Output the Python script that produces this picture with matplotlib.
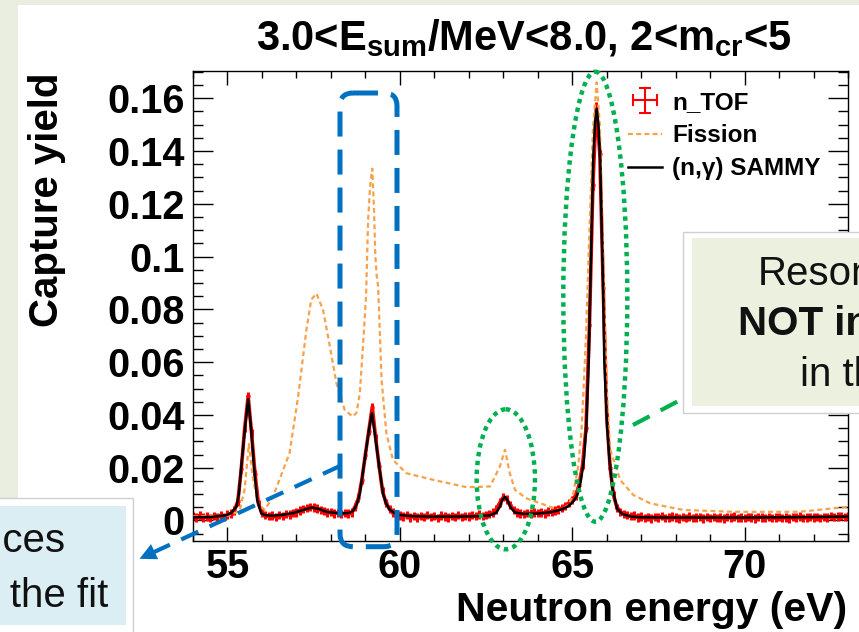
import numpy as np
import matplotlib
matplotlib.use('Agg')
import matplotlib.pyplot as plt
from matplotlib.transforms import Affine2D
from matplotlib.patches import FancyBboxPatch, Ellipse, Rectangle, FancyArrowPatch
from matplotlib.lines import Line2D

plt.rcParams['font.family'] = ['Liberation Sans', 'DejaVu Sans']
plt.rcParams['font.weight'] = 'bold'
plt.rcParams['mathtext.fontset'] = 'custom'
plt.rcParams['mathtext.rm'] = 'Liberation Sans:bold'
plt.rcParams['mathtext.bf'] = 'Liberation Sans:bold'
plt.rcParams['mathtext.it'] = 'Liberation Sans:bold'

# ---------------- data ----------------
ntof_start = 54.0
ntof_step = 0.1
ntof_yield = [
    0.0016, 0.0011, 0.0019, 0.0012, 0.0015, 0.0009, 0.0017, 0.0013, 0.0020, 0.0014,
    0.0022, 0.0026, 0.0038, 0.0072, 0.0195, 0.0350, 0.0470, 0.0330, 0.0175, 0.0062,
    0.0030, 0.0021, 0.0016, 0.0019, 0.0014, 0.0020, 0.0018, 0.0024, 0.0022, 0.0029,
    0.0031, 0.0038, 0.0043, 0.0047, 0.0052, 0.0049, 0.0046, 0.0040, 0.0035, 0.0030,
    0.0033, 0.0027, 0.0029, 0.0024, 0.0028, 0.0026, 0.0031, 0.0052, 0.0085, 0.0155,
    0.0250, 0.0340, 0.0430, 0.0310, 0.0205, 0.0110, 0.0066, 0.0043, 0.0030, 0.0022,
    0.0019, 0.0015, 0.0021, 0.0012, 0.0017, 0.0011, 0.0018, 0.0014, 0.0020, 0.0013,
    0.0016, 0.0010, 0.0019, 0.0015, 0.0012, 0.0018, 0.0014, 0.0021, 0.0013, 0.0017,
    0.0015, 0.0020, 0.0016, 0.0022, 0.0018, 0.0021, 0.0024, 0.0030, 0.0042, 0.0068,
    0.0088, 0.0080, 0.0058, 0.0040, 0.0031, 0.0027, 0.0024, 0.0029, 0.0026, 0.0030,
    0.0028, 0.0031, 0.0027, 0.0034, 0.0032, 0.0038, 0.0042, 0.0047, 0.0055, 0.0066,
    0.0078, 0.0095, 0.0135, 0.0210, 0.0350, 0.0740, 0.1270, 0.1570, 0.1390, 0.0880,
    0.0400, 0.0200, 0.0095, 0.0048, 0.0033, 0.0024, 0.0020, 0.0016, 0.0019, 0.0012,
    0.0015, 0.0010, 0.0013, 0.0008, 0.0014, 0.0011, 0.0016, 0.0009, 0.0012, 0.0015,
    0.0011, 0.0007, 0.0013, 0.0010, 0.0015, 0.0009, 0.0012, 0.0014, 0.0008, 0.0013,
    0.0010, 0.0014, 0.0009, 0.0012, 0.0007, 0.0013, 0.0011, 0.0015, 0.0010, 0.0012,
    0.0009, 0.0013, 0.0011, 0.0008, 0.0014, 0.0012, 0.0010, 0.0013, 0.0009, 0.0011,
    0.0014, 0.0010, 0.0012, 0.0008, 0.0013, 0.0011, 0.0015, 0.0009, 0.0012, 0.0014,
    0.0011, 0.0013, 0.0010, 0.0014, 0.0012, 0.0016, 0.0013, 0.0015, 0.0017, 0.0014,
    0.0016,
]
ntof_energy = np.round(ntof_start + ntof_step * np.arange(len(ntof_yield)), 2)
ntof_err = 0.0016
ntof_bin_half = 0.05

sammy_energy = [
    54.0, 54.5, 54.97, 55.1, 55.26, 55.33, 55.40, 55.50, 55.60, 55.69,
    55.77, 55.86, 55.98, 56.1, 56.31, 56.6, 56.9, 57.15, 57.43, 57.65,
    57.87, 58.1, 58.3, 58.5, 58.64, 58.75, 58.84, 58.98, 59.10, 59.19,
    59.30, 59.40, 59.51, 59.60, 59.71, 59.85, 59.99, 60.3, 60.8, 61.5,
    62.2, 62.6, 62.8, 62.9, 62.97, 63.05, 63.13, 63.22, 63.35, 63.6,
    64.0, 64.4, 64.7, 64.9, 65.05, 65.15, 65.25, 65.34, 65.41, 65.48,
    65.52, 65.565, 65.61, 65.66, 65.71, 65.76, 65.81, 65.855, 65.90, 65.93,
    66.01, 66.08, 66.17, 66.3, 66.45, 66.7, 67.0, 68.0, 69.0, 70.0,
    71.0, 72.0, 73.0,
]
sammy_yield = [
    0.0012, 0.0013, 0.0020, 0.0028, 0.0052, 0.0100, 0.0204, 0.0340, 0.0460, 0.0340,
    0.0204, 0.0078, 0.0027, 0.0020, 0.0018, 0.0022, 0.0028, 0.0038, 0.0049, 0.0044,
    0.0033, 0.0029, 0.0027, 0.0028, 0.0035, 0.0060, 0.0103, 0.0230, 0.0340, 0.0407,
    0.0305, 0.0204, 0.0103, 0.0065, 0.0040, 0.0028, 0.0021, 0.0017, 0.0015, 0.0015,
    0.0016, 0.0019, 0.0030, 0.0052, 0.0078, 0.0090, 0.0075, 0.0048, 0.0030, 0.0025,
    0.0026, 0.0032, 0.0042, 0.0055, 0.0075, 0.0097, 0.0150, 0.0230, 0.0360, 0.0610,
    0.0860, 0.1115, 0.1370, 0.1500, 0.1560, 0.1500, 0.1370, 0.1115, 0.0860, 0.0610,
    0.0360, 0.0230, 0.0120, 0.0045, 0.0025, 0.0015, 0.0012, 0.0011, 0.0011, 0.0011,
    0.0012, 0.0013, 0.0015,
]

fission_energy = [
    54.0, 55.0, 55.35, 55.5, 55.62, 55.75, 55.9, 56.08, 56.32, 56.8,
    57.05, 57.29, 57.43, 57.58, 57.77, 57.97, 58.16, 58.40, 58.63, 58.74,
    58.84, 58.93, 59.02, 59.08, 59.14, 59.20, 59.25, 59.29, 59.33, 59.37,
    59.47, 59.61, 59.80, 60.19, 60.97, 61.94, 62.62, 62.9, 63.05, 63.19,
    63.34, 63.67, 64.36, 64.65, 64.9, 65.03, 65.17, 65.27, 65.33, 65.4,
    65.5, 65.6, 65.71, 65.8, 65.88, 65.95, 66.02, 66.1, 66.39, 66.77,
    67.26, 68.22, 69.67, 71.6, 72.57, 73.0,
]
fission_yield = [
    0.0015, 0.0018, 0.0035, 0.0120, 0.0290, 0.0150, 0.0060, 0.0040, 0.0090, 0.0255,
    0.0470, 0.0723, 0.0837, 0.0860, 0.0799, 0.0660, 0.0520, 0.0419, 0.0394, 0.0407,
    0.0483, 0.0660, 0.0850, 0.1140, 0.1270, 0.1333, 0.1180, 0.1000, 0.0925, 0.0887,
    0.0533, 0.0330, 0.0230, 0.0179, 0.0154, 0.0126, 0.0129, 0.0204, 0.0268, 0.0179,
    0.0116, 0.0084, 0.0052, 0.0038, 0.0060, 0.0103, 0.0200, 0.0343, 0.0500, 0.0700,
    0.1100, 0.1480, 0.1660, 0.1500, 0.1100, 0.0750, 0.0450, 0.0270, 0.0154, 0.0097,
    0.0065, 0.0040, 0.0033, 0.0033, 0.0046, 0.0052,
]

x_ticks = [55, 60, 65, 70]
x_tick_labels = ['55', '60', '65', '70']
y_ticks = [0, 0.02, 0.04, 0.06, 0.08, 0.10, 0.12, 0.14, 0.16]
y_tick_labels = ['0', '0.02', '0.04', '0.06', '0.08', '0.1', '0.12', '0.14', '0.16']
legend_labels = ['n_TOF', 'Fission', '(n,γ) SAMMY']
title_text = r'3.0<E$_{\mathrm{sum}}$/MeV<8.0, 2<m$_{\mathrm{cr}}$<5'

# ---------------- figure ----------------
W, H = 859, 632
fig = plt.figure(figsize=(W / 100, H / 100), dpi=100)
fig.patch.set_facecolor('white')
pix = Affine2D().scale(1.0 / W, -1.0 / H).translate(0, 1) + fig.transFigure

bg = '#eaeee0'
fig.add_artist(Rectangle((0, 0), 18, H, transform=pix, fc=bg, ec='none', zorder=0))
fig.add_artist(Rectangle((0, 0), W, 5, transform=pix, fc=bg, ec='none', zorder=0))

ax = fig.add_axes([193 / W, 1 - 541 / H, (848 - 193) / W, (541 - 71) / H])
ax.set_facecolor('white')

ax.errorbar(ntof_energy, ntof_yield, yerr=ntof_err, xerr=ntof_bin_half, fmt='none',
            ecolor='#ff0000', elinewidth=2.2, zorder=2)
ax.plot(ntof_energy, ntof_yield, color='#ff0000', lw=2.6, zorder=2)
fis_line, = ax.plot(fission_energy, fission_yield, color='#f8a14b', lw=1.6,
                    ls=(0, (2.2, 1.5)), zorder=3)
sam_line, = ax.plot(sammy_energy, sammy_yield, color='black', lw=1.8, zorder=4)

ax.set_xlim(54, 73)
ax.set_ylim(-0.00777, 0.1703)
ax.set_xticks(x_ticks)
ax.set_xticklabels(x_tick_labels)
ax.set_xticks(np.arange(54, 74, 1), minor=True)
ax.set_yticks(y_ticks)
ax.set_yticklabels(y_tick_labels)
ax.set_yticks(np.arange(-0.005, 0.1701, 0.005), minor=True)
ax.tick_params(which='both', direction='in', top=True, right=True, width=1.0,
               labelsize=28.5, colors='black')
ax.tick_params(axis='y', which='major', length=14.5, pad=6)
ax.tick_params(axis='y', which='minor', length=7)
ax.tick_params(axis='x', which='major', length=10, pad=5)
ax.tick_params(axis='x', which='minor', length=5)
for s in ax.spines.values():
    s.set_linewidth(1.0)

# legend
proxy = ax.errorbar([np.nan], [np.nan], yerr=[0.001], xerr=[0.05], fmt='none',
                    ecolor='#ff0000', elinewidth=1.5, capsize=4, capthick=1.5)
leg = ax.legend([proxy, fis_line, sam_line], legend_labels, loc='upper left',
                bbox_to_anchor=(628, 91), bbox_transform=pix, frameon=False,
                fontsize=17.5, handlelength=1.4, handletextpad=0.42,
                labelspacing=0.42, borderpad=0, borderaxespad=0)
leg.set_zorder(6)

# texts
fig.text(523.5 / W, 1 - 50 / H, title_text, ha='center', va='baseline',
         fontsize=30, weight='bold')
fig.text(47.5 / W, 1 - 200 / H, 'Capture yield', rotation=90, ha='center',
         va='center', fontsize=29, weight='bold')
fig.text(847 / W, 1 - 621 / H, 'Neutron energy (eV)', ha='right', va='baseline',
         fontsize=29.5, weight='bold')

# ---------------- slide annotations ----------------
blue = '#0070c0'
green = '#00b050'
fig.add_artist(FancyBboxPatch((340, 93), 57, 453.7,
                              boxstyle='round,pad=0,rounding_size=13',
                              transform=pix, fill=False, ec=blue, lw=3.6,
                              ls=(0, (5, 2.6)), zorder=10))
fig.add_artist(Ellipse((505.8, 479.3), 58.3, 140, transform=pix, fill=False,
                       ec=green, lw=3.2, ls=(0, (1, 1)), zorder=10))
fig.add_artist(Ellipse((595.3, 296.7), 64, 450, transform=pix, fill=False,
                       ec=green, lw=3.2, ls=(0, (1, 1)), zorder=10))

# blue arrow
fig.add_artist(Line2D([340, 152], [466, 553], transform=pix, color=blue, lw=3.0,
                      ls=(0, (4.5, 3)), zorder=10))
fig.add_artist(FancyArrowPatch((156, 551), (137, 560), transform=pix,
                               arrowstyle='-|>,head_length=1.0,head_width=0.5',
                               mutation_scale=12, color=blue, lw=0, zorder=10))
# green arrow
fig.add_artist(Line2D([633, 720], [425, 379], transform=pix, color=green, lw=3.0,
                      ls=(0, (4.5, 3)), zorder=10))
fig.add_artist(FancyArrowPatch((716, 381), (737, 370), transform=pix,
                               arrowstyle='-|>,head_length=1.0,head_width=0.5',
                               mutation_scale=12, color=green, lw=0, zorder=10))

# green box
fig.add_artist(Rectangle((683, 232), 200, 181, transform=pix, fc='white',
                         ec='#cfcfcf', lw=1.0, zorder=11))
fig.add_artist(Rectangle((692, 238), 200, 168, transform=pix, fc='#ebf1de',
                         ec='none', zorder=12))
fig.text(758 / W, 1 - 285 / H, 'Resonances', ha='left', va='baseline',
         fontsize=29, weight='normal', color='#111111', zorder=13)
fig.text(738 / W, 1 - 335 / H, 'NOT included', ha='left', va='baseline',
         fontsize=29, weight='bold', color='#111111', zorder=13)
fig.text(800 / W, 1 - 386 / H, 'in the fit', ha='left', va='baseline',
         fontsize=29, weight='normal', color='#111111', zorder=13)

# blue box
fig.add_artist(Rectangle((-10, 498), 143, 150, transform=pix, fc='white',
                         ec='#cfcfcf', lw=1.0, zorder=11))
fig.add_artist(Rectangle((-10, 506), 136, 119, transform=pix, fc='#dbeef4',
                         ec='none', zorder=12))
fig.text(66 / W, 1 - 552 / H, 'Resonances', ha='right', va='baseline',
         fontsize=29, weight='normal', color='#111111', zorder=13)
fig.text(108 / W, 1 - 607 / H, 'included in the fit', ha='right', va='baseline',
         fontsize=29, weight='normal', color='#111111', zorder=13)

fig.savefig('out.png', dpi=100)
